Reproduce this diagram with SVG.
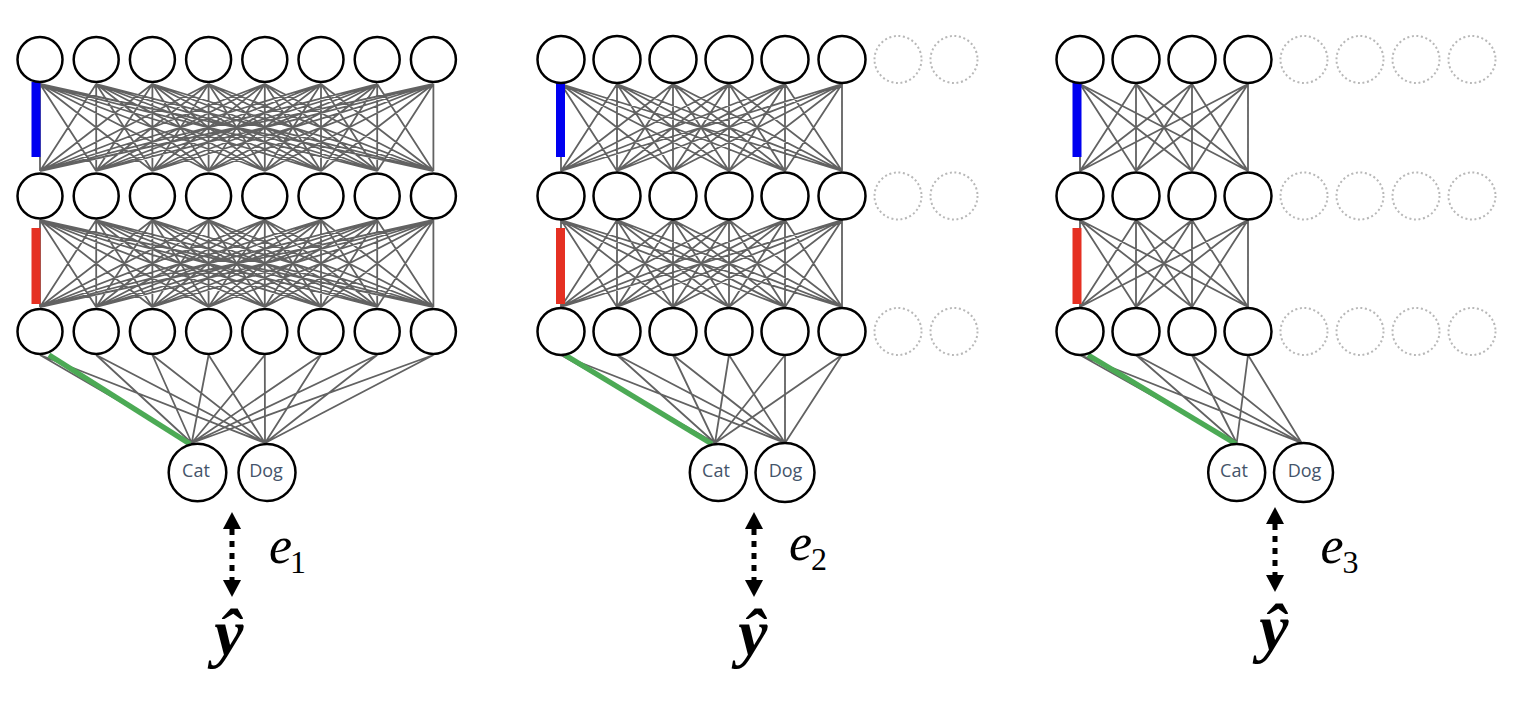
<svg xmlns="http://www.w3.org/2000/svg" width="1514" height="704" viewBox="0 0 1514 704">
<style>
.n{fill:#fff;stroke:#000;stroke-width:2.5}
.d{fill:none;stroke:#b8b8b8;stroke-width:2;stroke-dasharray:2 2.6}
.w{fill:none;stroke:#626262;stroke-width:1.8}
.g{fill:none;stroke:#4caa55;stroke-width:5.5}
.lbl{font-family:"Open Sans",sans-serif;font-size:18px;fill:#44546a;text-anchor:middle}
.e{font-family:"Liberation Serif",serif;font-style:italic;font-size:52px;fill:#000}
.sub{font-style:normal;font-size:32px}
.yh{font-family:"Liberation Serif",serif;font-style:italic;font-weight:bold;font-size:66px;fill:#000;text-anchor:middle}
.arr{stroke:#000;stroke-width:5;stroke-dasharray:6 6;fill:none}
</style>
<defs>
<marker id="ah" markerUnits="userSpaceOnUse" markerWidth="18" markerHeight="18" viewBox="0 0 17 18" refX="0" refY="9" orient="auto-start-reverse">
<path d="M0,0 L17,9 L0,18 z" fill="#000"/>
</marker>
</defs>
<rect width="1514" height="704" fill="#fff"/>
<g id="connectors">
<path class="w" transform="translate(0,84)" d="M40 0L40 87M40 0L96.2 87M40 0L152.4 87M40 0L208.6 87M40 0L264.8 87M40 0L321 87M40 0L377.2 87M40 0L433.4 87M96.2 0L40 87M96.2 0L96.2 87M96.2 0L152.4 87M96.2 0L208.6 87M96.2 0L264.8 87M96.2 0L321 87M96.2 0L377.2 87M96.2 0L433.4 87M152.4 0L40 87M152.4 0L96.2 87M152.4 0L152.4 87M152.4 0L208.6 87M152.4 0L264.8 87M152.4 0L321 87M152.4 0L377.2 87M152.4 0L433.4 87M208.6 0L40 87M208.6 0L96.2 87M208.6 0L152.4 87M208.6 0L208.6 87M208.6 0L264.8 87M208.6 0L321 87M208.6 0L377.2 87M208.6 0L433.4 87M264.8 0L40 87M264.8 0L96.2 87M264.8 0L152.4 87M264.8 0L208.6 87M264.8 0L264.8 87M264.8 0L321 87M264.8 0L377.2 87M264.8 0L433.4 87M321 0L40 87M321 0L96.2 87M321 0L152.4 87M321 0L208.6 87M321 0L264.8 87M321 0L321 87M321 0L377.2 87M321 0L433.4 87M377.2 0L40 87M377.2 0L96.2 87M377.2 0L152.4 87M377.2 0L208.6 87M377.2 0L264.8 87M377.2 0L321 87M377.2 0L377.2 87M377.2 0L433.4 87M433.4 0L40 87M433.4 0L96.2 87M433.4 0L152.4 87M433.4 0L208.6 87M433.4 0L264.8 87M433.4 0L321 87M433.4 0L377.2 87M433.4 0L433.4 87"/>
<path class="w" transform="translate(0,220)" d="M40 0L40 87M40 0L96.2 87M40 0L152.4 87M40 0L208.6 87M40 0L264.8 87M40 0L321 87M40 0L377.2 87M40 0L433.4 87M96.2 0L40 87M96.2 0L96.2 87M96.2 0L152.4 87M96.2 0L208.6 87M96.2 0L264.8 87M96.2 0L321 87M96.2 0L377.2 87M96.2 0L433.4 87M152.4 0L40 87M152.4 0L96.2 87M152.4 0L152.4 87M152.4 0L208.6 87M152.4 0L264.8 87M152.4 0L321 87M152.4 0L377.2 87M152.4 0L433.4 87M208.6 0L40 87M208.6 0L96.2 87M208.6 0L152.4 87M208.6 0L208.6 87M208.6 0L264.8 87M208.6 0L321 87M208.6 0L377.2 87M208.6 0L433.4 87M264.8 0L40 87M264.8 0L96.2 87M264.8 0L152.4 87M264.8 0L208.6 87M264.8 0L264.8 87M264.8 0L321 87M264.8 0L377.2 87M264.8 0L433.4 87M321 0L40 87M321 0L96.2 87M321 0L152.4 87M321 0L208.6 87M321 0L264.8 87M321 0L321 87M321 0L377.2 87M321 0L433.4 87M377.2 0L40 87M377.2 0L96.2 87M377.2 0L152.4 87M377.2 0L208.6 87M377.2 0L264.8 87M377.2 0L321 87M377.2 0L377.2 87M377.2 0L433.4 87M433.4 0L40 87M433.4 0L96.2 87M433.4 0L152.4 87M433.4 0L208.6 87M433.4 0L264.8 87M433.4 0L321 87M433.4 0L377.2 87M433.4 0L433.4 87"/>
<path class="w" d="M40 355L191.7 443M96.2 355L191.7 443M152.4 355L191.7 443M208.6 355L191.7 443M264.8 355L191.7 443M321 355L191.7 443M377.2 355L191.7 443M433.4 355L191.7 443M40 355L265 443M96.2 355L265 443M152.4 355L265 443M208.6 355L265 443M264.8 355L265 443M321 355L265 443M377.2 355L265 443M433.4 355L265 443"/>
<path class="w" transform="translate(0,84)" d="M561 0L561 87M561 0L617 87M561 0L673 87M561 0L729 87M561 0L785 87M561 0L842 87M617 0L561 87M617 0L617 87M617 0L673 87M617 0L729 87M617 0L785 87M617 0L842 87M673 0L561 87M673 0L617 87M673 0L673 87M673 0L729 87M673 0L785 87M673 0L842 87M729 0L561 87M729 0L617 87M729 0L673 87M729 0L729 87M729 0L785 87M729 0L842 87M785 0L561 87M785 0L617 87M785 0L673 87M785 0L729 87M785 0L785 87M785 0L842 87M842 0L561 87M842 0L617 87M842 0L673 87M842 0L729 87M842 0L785 87M842 0L842 87"/>
<path class="w" transform="translate(0,220)" d="M561 0L561 87M561 0L617 87M561 0L673 87M561 0L729 87M561 0L785 87M561 0L842 87M617 0L561 87M617 0L617 87M617 0L673 87M617 0L729 87M617 0L785 87M617 0L842 87M673 0L561 87M673 0L617 87M673 0L673 87M673 0L729 87M673 0L785 87M673 0L842 87M729 0L561 87M729 0L617 87M729 0L673 87M729 0L729 87M729 0L785 87M729 0L842 87M785 0L561 87M785 0L617 87M785 0L673 87M785 0L729 87M785 0L785 87M785 0L842 87M842 0L561 87M842 0L617 87M842 0L673 87M842 0L729 87M842 0L785 87M842 0L842 87"/>
<path class="w" d="M561 355L715 443M617 355L715 443M673 355L715 443M729 355L715 443M785 355L715 443M842 355L715 443M561 355L785 443M617 355L785 443M673 355L785 443M729 355L785 443M785 355L785 443M842 355L785 443"/>
<path class="w" transform="translate(0,84)" d="M1080 0L1080 87M1080 0L1136 87M1080 0L1192 87M1080 0L1248 87M1136 0L1080 87M1136 0L1136 87M1136 0L1192 87M1136 0L1248 87M1192 0L1080 87M1192 0L1136 87M1192 0L1192 87M1192 0L1248 87M1248 0L1080 87M1248 0L1136 87M1248 0L1192 87M1248 0L1248 87"/>
<path class="w" transform="translate(0,220)" d="M1080 0L1080 87M1080 0L1136 87M1080 0L1192 87M1080 0L1248 87M1136 0L1080 87M1136 0L1136 87M1136 0L1192 87M1136 0L1248 87M1192 0L1080 87M1192 0L1136 87M1192 0L1192 87M1192 0L1248 87M1248 0L1080 87M1248 0L1136 87M1248 0L1192 87M1248 0L1248 87"/>
<path class="w" d="M1080 355L1236.7 443M1136 355L1236.7 443M1192 355L1236.7 443M1248 355L1236.7 443M1080 355L1301.7 443M1136 355L1301.7 443M1192 355L1301.7 443M1248 355L1301.7 443"/>
<rect x="31.5" y="82" width="9" height="75" fill="#0000f0"/>
<rect x="31.5" y="228" width="9" height="76" fill="#e53022"/>
<line class="g" x1="49" y1="355" x2="190" y2="444"/>
<rect x="556" y="82" width="9" height="75" fill="#0000f0"/>
<rect x="556" y="228" width="9" height="76" fill="#e53022"/>
<line class="g" x1="565" y1="355" x2="712" y2="444"/>
<rect x="1072.5" y="82" width="9" height="75" fill="#0000f0"/>
<rect x="1072.5" y="228" width="9" height="76" fill="#e53022"/>
<line class="g" x1="1088" y1="355" x2="1236" y2="444"/>
<line class="arr" x1="232" y1="529" x2="232" y2="580" marker-start="url(#ah)" marker-end="url(#ah)"/>
<line class="arr" x1="754" y1="529" x2="754" y2="580" marker-start="url(#ah)" marker-end="url(#ah)"/>
<line class="arr" x1="1275" y1="524" x2="1275" y2="575" marker-start="url(#ah)" marker-end="url(#ah)"/>
</g>
<g id="net1">
<g id="n1-a1"><circle class="n" cx="40" cy="59.5" r="22.5"/></g>
<g id="n1-a2"><circle class="n" cx="96.2" cy="59.5" r="22.5"/></g>
<g id="n1-a3"><circle class="n" cx="152.4" cy="59.5" r="22.5"/></g>
<g id="n1-a4"><circle class="n" cx="208.6" cy="59.5" r="22.5"/></g>
<g id="n1-a5"><circle class="n" cx="264.8" cy="59.5" r="22.5"/></g>
<g id="n1-a6"><circle class="n" cx="321" cy="59.5" r="22.5"/></g>
<g id="n1-a7"><circle class="n" cx="377.2" cy="59.5" r="22.5"/></g>
<g id="n1-a8"><circle class="n" cx="433.4" cy="59.5" r="22.5"/></g>
<g id="n1-b1"><circle class="n" cx="40" cy="196" r="22.5"/></g>
<g id="n1-b2"><circle class="n" cx="96.2" cy="196" r="22.5"/></g>
<g id="n1-b3"><circle class="n" cx="152.4" cy="196" r="22.5"/></g>
<g id="n1-b4"><circle class="n" cx="208.6" cy="196" r="22.5"/></g>
<g id="n1-b5"><circle class="n" cx="264.8" cy="196" r="22.5"/></g>
<g id="n1-b6"><circle class="n" cx="321" cy="196" r="22.5"/></g>
<g id="n1-b7"><circle class="n" cx="377.2" cy="196" r="22.5"/></g>
<g id="n1-b8"><circle class="n" cx="433.4" cy="196" r="22.5"/></g>
<g id="n1-c1"><circle class="n" cx="40" cy="331.5" r="22.5"/></g>
<g id="n1-c2"><circle class="n" cx="96.2" cy="331.5" r="22.5"/></g>
<g id="n1-c3"><circle class="n" cx="152.4" cy="331.5" r="22.5"/></g>
<g id="n1-c4"><circle class="n" cx="208.6" cy="331.5" r="22.5"/></g>
<g id="n1-c5"><circle class="n" cx="264.8" cy="331.5" r="22.5"/></g>
<g id="n1-c6"><circle class="n" cx="321" cy="331.5" r="22.5"/></g>
<g id="n1-c7"><circle class="n" cx="377.2" cy="331.5" r="22.5"/></g>
<g id="n1-c8"><circle class="n" cx="433.4" cy="331.5" r="22.5"/></g>
<g id="n1-cat"><circle class="n" cx="197.5" cy="472.5" r="28.8"/><text class="lbl" x="196" y="477">Cat</text></g>
<g id="n1-dog"><circle class="n" cx="267" cy="472.5" r="28.5"/><text class="lbl" x="266" y="477">Dog</text></g>
<g id="n1-err"><text class="e" x="269" y="563">e<tspan class="sub" dx="-2" dy="10">1</tspan></text></g>
<g id="n1-yhat"><text class="yh" x="229" y="655">ŷ</text></g>
</g>
<g id="net2">
<g id="n2-a1"><circle class="n" cx="561" cy="59.5" r="23.5"/></g>
<g id="n2-a2"><circle class="n" cx="617" cy="59.5" r="23.5"/></g>
<g id="n2-a3"><circle class="n" cx="673" cy="59.5" r="23.5"/></g>
<g id="n2-a4"><circle class="n" cx="729" cy="59.5" r="23.5"/></g>
<g id="n2-a5"><circle class="n" cx="785" cy="59.5" r="23.5"/></g>
<g id="n2-a6"><circle class="n" cx="842" cy="59.5" r="23.5"/></g>
<g id="n2-a7"><circle class="d" cx="898" cy="59.5" r="23.5"/></g>
<g id="n2-a8"><circle class="d" cx="954" cy="59.5" r="23.5"/></g>
<g id="n2-b1"><circle class="n" cx="561" cy="196" r="23.5"/></g>
<g id="n2-b2"><circle class="n" cx="617" cy="196" r="23.5"/></g>
<g id="n2-b3"><circle class="n" cx="673" cy="196" r="23.5"/></g>
<g id="n2-b4"><circle class="n" cx="729" cy="196" r="23.5"/></g>
<g id="n2-b5"><circle class="n" cx="785" cy="196" r="23.5"/></g>
<g id="n2-b6"><circle class="n" cx="842" cy="196" r="23.5"/></g>
<g id="n2-b7"><circle class="d" cx="898" cy="196" r="23.5"/></g>
<g id="n2-b8"><circle class="d" cx="954" cy="196" r="23.5"/></g>
<g id="n2-c1"><circle class="n" cx="561" cy="331.5" r="23.5"/></g>
<g id="n2-c2"><circle class="n" cx="617" cy="331.5" r="23.5"/></g>
<g id="n2-c3"><circle class="n" cx="673" cy="331.5" r="23.5"/></g>
<g id="n2-c4"><circle class="n" cx="729" cy="331.5" r="23.5"/></g>
<g id="n2-c5"><circle class="n" cx="785" cy="331.5" r="23.5"/></g>
<g id="n2-c6"><circle class="n" cx="842" cy="331.5" r="23.5"/></g>
<g id="n2-c7"><circle class="d" cx="898" cy="331.5" r="23.5"/></g>
<g id="n2-c8"><circle class="d" cx="954" cy="331.5" r="23.5"/></g>
<g id="n2-cat"><circle class="n" cx="718.3" cy="472.5" r="28.5"/><text class="lbl" x="716" y="477">Cat</text></g>
<g id="n2-dog"><circle class="n" cx="785" cy="472.5" r="29.5"/><text class="lbl" x="785.5" y="477">Dog</text></g>
<g id="n2-err"><text class="e" x="789" y="560">e<tspan class="sub" dx="-1" dy="10">2</tspan></text></g>
<g id="n2-yhat"><text class="yh" x="753" y="655">ŷ</text></g>
</g>
<g id="net3">
<g id="n3-a1"><circle class="n" cx="1080" cy="59.5" r="23.5"/></g>
<g id="n3-a2"><circle class="n" cx="1136" cy="59.5" r="23.5"/></g>
<g id="n3-a3"><circle class="n" cx="1192" cy="59.5" r="23.5"/></g>
<g id="n3-a4"><circle class="n" cx="1248" cy="59.5" r="23.5"/></g>
<g id="n3-a5"><circle class="d" cx="1304" cy="59.5" r="23.5"/></g>
<g id="n3-a6"><circle class="d" cx="1360" cy="59.5" r="23.5"/></g>
<g id="n3-a7"><circle class="d" cx="1416" cy="59.5" r="23.5"/></g>
<g id="n3-a8"><circle class="d" cx="1472" cy="59.5" r="23.5"/></g>
<g id="n3-b1"><circle class="n" cx="1080" cy="196" r="23.5"/></g>
<g id="n3-b2"><circle class="n" cx="1136" cy="196" r="23.5"/></g>
<g id="n3-b3"><circle class="n" cx="1192" cy="196" r="23.5"/></g>
<g id="n3-b4"><circle class="n" cx="1248" cy="196" r="23.5"/></g>
<g id="n3-b5"><circle class="d" cx="1304" cy="196" r="23.5"/></g>
<g id="n3-b6"><circle class="d" cx="1360" cy="196" r="23.5"/></g>
<g id="n3-b7"><circle class="d" cx="1416" cy="196" r="23.5"/></g>
<g id="n3-b8"><circle class="d" cx="1472" cy="196" r="23.5"/></g>
<g id="n3-c1"><circle class="n" cx="1080" cy="331.5" r="23.5"/></g>
<g id="n3-c2"><circle class="n" cx="1136" cy="331.5" r="23.5"/></g>
<g id="n3-c3"><circle class="n" cx="1192" cy="331.5" r="23.5"/></g>
<g id="n3-c4"><circle class="n" cx="1248" cy="331.5" r="23.5"/></g>
<g id="n3-c5"><circle class="d" cx="1304" cy="331.5" r="23.5"/></g>
<g id="n3-c6"><circle class="d" cx="1360" cy="331.5" r="23.5"/></g>
<g id="n3-c7"><circle class="d" cx="1416" cy="331.5" r="23.5"/></g>
<g id="n3-c8"><circle class="d" cx="1472" cy="331.5" r="23.5"/></g>
<g id="n3-cat"><circle class="n" cx="1236.7" cy="472.5" r="28.5"/><text class="lbl" x="1234" y="477">Cat</text></g>
<g id="n3-dog"><circle class="n" cx="1303.5" cy="472.5" r="29.5"/><text class="lbl" x="1304.5" y="477">Dog</text></g>
<g id="n3-err"><text class="e" x="1320.5" y="562.7">e<tspan class="sub" dx="-1" dy="10">3</tspan></text></g>
<g id="n3-yhat"><text class="yh" x="1274" y="650">ŷ</text></g>
</g>
</svg>
